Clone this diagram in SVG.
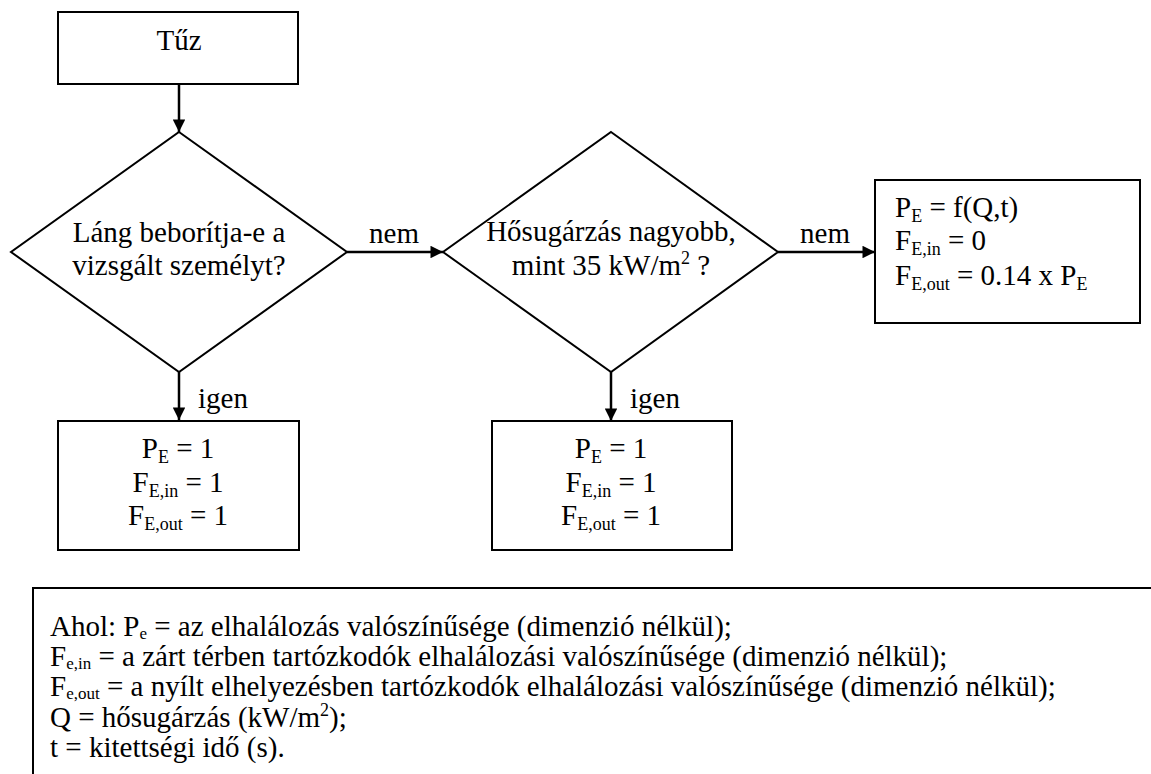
<svg xmlns="http://www.w3.org/2000/svg" width="1151" height="774" viewBox="0 0 1151 774">
<style>
.shape{fill:#fff;stroke:#000;stroke-width:2}
.t{font-family:"Liberation Serif","Times New Roman",serif;font-size:29px;fill:#000}
.c{text-anchor:middle}
.conn{stroke:#000;stroke-width:2.5;fill:none}
.s{font-size:18px}
.ls{font-size:17px}
</style>
<defs>
<marker id="ah" viewBox="0 0 10 10" refX="10" refY="5" markerWidth="5.5" markerHeight="5" orient="auto" markerUnits="strokeWidth">
<path d="M0,0 L10,5 L0,10 Z" fill="#000"/>
</marker>
</defs>
<rect width="1151" height="774" fill="#fff"/>
<g id="connectors">
<line class="conn" x1="179" y1="84" x2="179" y2="132" marker-end="url(#ah)"/>
<line class="conn" x1="347" y1="252" x2="443" y2="252" marker-end="url(#ah)"/>
<line class="conn" x1="778" y1="252" x2="875" y2="252" marker-end="url(#ah)"/>
<line class="conn" x1="179" y1="372" x2="179" y2="420" marker-end="url(#ah)"/>
<line class="conn" x1="611" y1="372" x2="611" y2="421" marker-end="url(#ah)"/>
<text class="t c" x="394" y="243">nem</text>
<text class="t c" x="825" y="243">nem</text>
<text class="t" x="198" y="408">igen</text>
<text class="t" x="630" y="408">igen</text>
</g>
<g id="tuz">
<rect class="shape" x="58" y="12" width="240" height="72"/>
<text class="t c" x="179" y="50">Tűz</text>
</g>
<g id="d1">
<polygon class="shape" points="179,132 347,252 179,372 11,252"/>
<text class="t c" x="179" y="242">Láng beborítja-e a</text>
<text class="t c" x="179" y="275">vizsgált személyt?</text>
</g>
<g id="d2">
<polygon class="shape" points="611,132 778,252 611,372 443,252"/>
<text class="t c" x="611" y="241">Hősugárzás nagyobb,</text>
<text class="t c" x="611" y="275">mint 35 kW/m<tspan class="s" dy="-11">2</tspan><tspan dy="11"> ?</tspan></text>
</g>
<g id="right">
<rect class="shape" x="875" y="180" width="265" height="143"/>
<text class="t" x="895" y="217">P<tspan class="s" dy="5">E</tspan><tspan dy="-5"> = f(Q,t)</tspan></text>
<text class="t" x="895" y="250">F<tspan class="s" dy="5">E,in</tspan><tspan dy="-5"> = 0</tspan></text>
<text class="t" x="895" y="285">F<tspan class="s" dy="5">E,out</tspan><tspan dy="-5"> = 0.14 x P</tspan><tspan class="s" dy="5">E</tspan></text>
</g>
<g id="left">
<rect class="shape" x="58" y="421" width="241" height="129"/>
<text class="t c" x="178" y="458">P<tspan class="s" dy="5">E</tspan><tspan dy="-5"> = 1</tspan></text>
<text class="t c" x="178" y="492">F<tspan class="s" dy="5">E,in</tspan><tspan dy="-5"> = 1</tspan></text>
<text class="t c" x="178" y="525">F<tspan class="s" dy="5">E,out</tspan><tspan dy="-5"> = 1</tspan></text>
</g>
<g id="mid">
<rect class="shape" x="492" y="421" width="240" height="129"/>
<text class="t c" x="611" y="458">P<tspan class="s" dy="5">E</tspan><tspan dy="-5"> = 1</tspan></text>
<text class="t c" x="611" y="492">F<tspan class="s" dy="5">E,in</tspan><tspan dy="-5"> = 1</tspan></text>
<text class="t c" x="611" y="525">F<tspan class="s" dy="5">E,out</tspan><tspan dy="-5"> = 1</tspan></text>
</g>
<g id="legend">
<path d="M33,774 V588 H1151" fill="none" stroke="#000" stroke-width="2"/>
<text class="t" x="50" y="636">Ahol: P<tspan class="ls" dy="3">e</tspan><tspan dy="-3"> = az elhalálozás valószínűsége (dimenzió nélkül);</tspan></text>
<text class="t" x="50" y="666">F<tspan class="ls" dy="3">e,in</tspan><tspan dy="-3"> = a zárt térben tartózkodók elhalálozási valószínűsége (dimenzió nélkül);</tspan></text>
<text class="t" x="50" y="696">F<tspan class="ls" dy="3">e,out</tspan><tspan dy="-3"> = a nyílt elhelyezésben tartózkodók elhalálozási valószínűsége (dimenzió nélkül);</tspan></text>
<text class="t" x="50" y="727">Q = hősugárzás (kW/m<tspan class="s" dy="-11">2</tspan><tspan dy="11">);</tspan></text>
<text class="t" x="50" y="757">t = kitettségi idő (s).</text>
</g>
</svg>
